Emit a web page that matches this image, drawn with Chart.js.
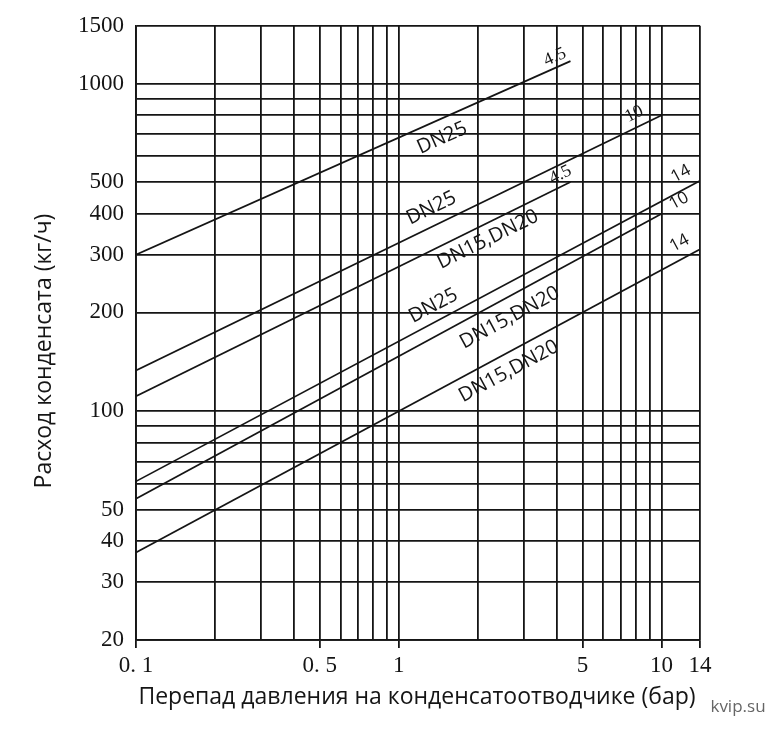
<!DOCTYPE html>
<html>
<head>
<meta charset="utf-8">
<script src="https://cdn.jsdelivr.net/npm/chart.js@4.4.1/dist/chart.umd.min.js"></script>
<style>
  html, body { margin: 0; padding: 0; background: #fff; }
</style>
</head>
<body>
<canvas id="myChart" width="781" height="731"></canvas>
<script>
// перепад давления (бар) и расход конденсата (кг/ч)
const xGrid = [0.1, 0.2, 0.3, 0.4, 0.5, 0.6, 0.7, 0.8, 0.9, 1, 2, 3, 4, 5, 6, 7, 8, 9, 10, 14];
const xLabels = [0.1, 0.5, 1, 5, 10, 14];
const yGrid = [20, 30, 40, 50, 60, 70, 80, 90, 100, 200, 300, 400, 500, 600, 700, 800, 900, 1000, 1500];
const yLabels = [20, 30, 40, 50, 100, 200, 300, 400, 500, 1000, 1500];

// each line: from start pressure to end pressure
const seriesNames = ['DN25 4.5', 'DN25 10', 'DN15,DN20 4.5', 'DN25 14', 'DN15,DN20 10', 'DN15,DN20 14'];
const startPressure = [0.1, 0.1, 0.1, 0.1, 0.1, 0.1];
const endPressure = [4.5, 10, 4.5, 14, 10, 14];
const startFlow = [300, 133, 111, 61, 54, 37];
const endFlow = [1170, 800, 500, 505, 400, 312];

const ink = '#151515';
const serif = '"Liberation Serif", "DejaVu Serif", serif';
const sans = '"Open Sans", "Noto Sans", sans-serif';

// text along the lines
const lineLabels = [
  { series: 0, text: 'DN25', at: 1.37, offset: 18, family: sans, size: 20 },
  { series: 1, text: 'DN25', at: 1.42, offset: -17, family: sans, size: 20 },
  { series: 2, text: 'DN15,DN20', at: 2.06, offset: 15, family: sans, size: 20 },
  { series: 3, text: 'DN25', at: 1.44, offset: -15, family: sans, size: 20 },
  { series: 4, text: 'DN15,DN20', at: 2.44, offset: 19, family: sans, size: 20 },
  { series: 5, text: 'DN15,DN20', at: 2.44, offset: 17, family: sans, size: 20 },
  { series: 0, text: '4.5', at: 4.07, offset: -10, family: serif, size: 18 },
  { series: 1, text: '10', at: 8.27, offset: -13, family: serif, size: 18 },
  { series: 2, text: '4.5', at: 4.3, offset: -11, family: serif, size: 18 },
  { series: 3, text: '14', at: 12.6, offset: -15, family: sans, size: 17 },
  { series: 4, text: '10', at: 11.8, offset: -3, family: sans, size: 17 },
  { series: 5, text: '14', at: 12.45, offset: -15, family: sans, size: 17 }
];

const datasets = seriesNames.map((name, i) => ({
  label: name,
  data: [
    { x: startPressure[i], y: startFlow[i] },
    { x: endPressure[i], y: endFlow[i] }
  ],
  borderColor: ink,
  borderWidth: 1.7,
  pointRadius: 0,
  fill: false,
  tension: 0
}));

const labelsPlugin = {
  id: 'lineLabels',
  afterDatasetsDraw(chart) {
    const ctx = chart.ctx;
    const xs = chart.scales.x;
    lineLabels.forEach(l => {
      const meta = chart.getDatasetMeta(l.series);
      const p0 = meta.data[0], p1 = meta.data[1];
      const px = xs.getPixelForValue(l.at);
      const t = (px - p0.x) / (p1.x - p0.x);
      const py = p0.y + t * (p1.y - p0.y);
      const ang = Math.atan2(p1.y - p0.y, p1.x - p0.x);
      ctx.save();
      ctx.translate(px, py);
      ctx.rotate(ang);
      ctx.font = l.size + 'px ' + l.family;
      ctx.fillStyle = ink;
      ctx.textAlign = 'center';
      ctx.textBaseline = 'middle';
      ctx.fillText(l.text, 0, l.offset);
      ctx.restore();
    });
  },
  afterDraw(chart) {
    const ctx = chart.ctx;
    ctx.save();
    ctx.fillStyle = ink;
    ctx.font = '23px ' + sans;
    ctx.textAlign = 'center';
    ctx.textBaseline = 'middle';
    ctx.fillText('Перепад давления на конденсатоотводчике (бар)', 417, 697);
    ctx.translate(44, 351);
    ctx.rotate(-Math.PI / 2);
    ctx.fillText('Расход конденсата (кг/ч)', 0, 0);
    ctx.restore();
    ctx.save();
    ctx.fillStyle = '#666';
    ctx.font = '17px ' + sans;
    ctx.textAlign = 'center';
    ctx.textBaseline = 'middle';
    ctx.fillText('kvip.su', 738, 707);
    ctx.restore();
  }
};

new Chart(document.getElementById('myChart'), {
  type: 'line',
  data: { datasets: datasets },
  options: {
    responsive: false,
    animation: false,
    layout: { padding: { top: 22, right: 81, left: 0, bottom: 0 } },
    plugins: { legend: { display: false }, tooltip: { enabled: false } },
    scales: {
      x: {
        type: 'logarithmic',
        min: 0.1,
        max: 14,
        afterBuildTicks: s => { s.ticks = xGrid.map(v => ({ value: v })); },
        afterFit: s => { s.height = 91; },
        ticks: {
          autoSkip: false,
          maxRotation: 0,
          padding: 4,
          color: ink,
          font: { family: serif, size: 23 },
          callback: v => xLabels.includes(v) ? (v < 1 ? String(v).replace('.', '. ') : String(v)) : ''
        },
        grid: {
          color: ink,
          lineWidth: 1.8,
          tickLength: 8,
          tickColor: c => (c.tick && xLabels.includes(c.tick.value)) ? ink : 'rgba(0,0,0,0)'
        },
        border: { color: ink, width: 1.8 }
      },
      y: {
        type: 'logarithmic',
        min: 20,
        max: 1500,
        afterBuildTicks: s => { s.ticks = yGrid.map(v => ({ value: v })); },
        afterFit: s => { s.width = 136; },
        ticks: {
          autoSkip: false,
          padding: 12,
          color: ink,
          font: { family: serif, size: 23 },
          callback: v => yLabels.includes(v) ? String(v) : ''
        },
        grid: { color: ink, lineWidth: 1.8, drawTicks: false },
        border: { color: ink, width: 1.8 }
      }
    }
  },
  plugins: [labelsPlugin]
});
</script>
</body>
</html>
